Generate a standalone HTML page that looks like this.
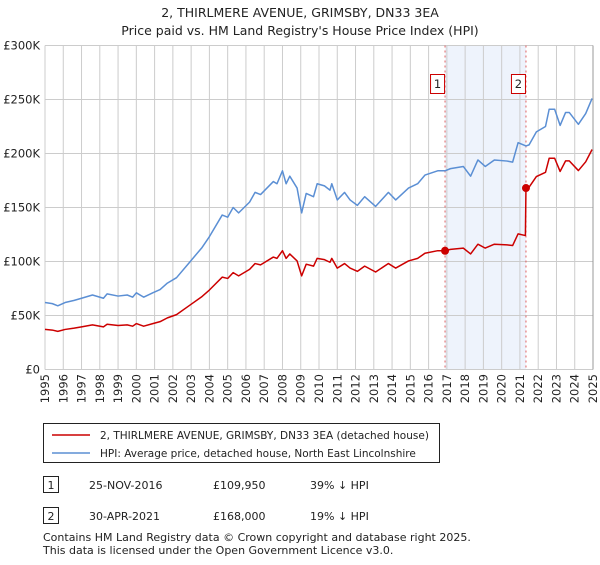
<!DOCTYPE html>
<html><head><meta charset="utf-8"><style>
body{margin:0;background:#fff;font-family:"Liberation Sans","DejaVu Sans",sans-serif;}
svg text{font-family:"DejaVu Sans","Liberation Sans",sans-serif;}
</style></head><body>
<svg id="chart" width="600" height="560" xmlns="http://www.w3.org/2000/svg">
<text x="300" y="17" text-anchor="middle" font-size="12.5" fill="#222">2, THIRLMERE AVENUE, GRIMSBY, DN33 3EA</text>
<text x="300" y="35" text-anchor="middle" font-size="12.5" fill="#222">Price paid vs. HM Land Registry's House Price Index (HPI)</text>
<g id="grid"></g><g id="marks"></g><g id="axes"></g>
<g>
<rect x="43.5" y="423.5" width="396" height="39" fill="#fff" stroke="#222"/>
<line x1="52" y1="435" x2="90" y2="435" stroke="#cc0000" stroke-width="1.5"/>
<text x="100" y="439" font-size="10.5" fill="#222">2, THIRLMERE AVENUE, GRIMSBY, DN33 3EA (detached house)</text>
<line x1="52" y1="453" x2="90" y2="453" stroke="#5b8fd4" stroke-width="1.5"/>
<text x="100" y="457" font-size="10.5" fill="#222">HPI: Average price, detached house, North East Lincolnshire</text>
</g>
<g font-size="11" fill="#222">
<rect x="43.5" y="476.5" width="15" height="16" fill="#fff" stroke="#222"/>
<text x="51" y="489" text-anchor="middle">1</text>
<text x="89" y="489">25-NOV-2016</text>
<text x="213" y="489">£109,950</text>
<text x="310" y="489">39% ↓ HPI</text>
<rect x="43.5" y="507.5" width="15" height="16" fill="#fff" stroke="#222"/>
<text x="51" y="520" text-anchor="middle">2</text>
<text x="89" y="520">30-APR-2021</text>
<text x="213" y="520">£168,000</text>
<text x="310" y="520">19% ↓ HPI</text>
</g>
<text x="43" y="541" font-size="11" fill="#222">Contains HM Land Registry data © Crown copyright and database right 2025.</text>
<text x="43" y="554" font-size="11" fill="#222">This data is licensed under the Open Government Licence v3.0.</text>
</svg>
<script>
const hpiYears=[1995.0,1995.4,1995.7,1996.1,1996.6,1997.0,1997.6,1998.2,1998.4,1999.0,1999.5,1999.8,2000.0,2000.4,2000.9,2001.3,2001.7,2002.2,2002.9,2003.6,2004.0,2004.7,2005.0,2005.3,2005.6,2006.2,2006.5,2006.8,2007.5,2007.7,2008.0,2008.2,2008.4,2008.8,2009.05,2009.3,2009.7,2009.9,2010.3,2010.6,2010.7,2011.0,2011.4,2011.7,2012.1,2012.5,2013.1,2013.8,2014.2,2014.9,2015.4,2015.8,2016.5,2016.9,2017.2,2017.9,2018.3,2018.7,2019.1,2019.6,2020.3,2020.6,2020.9,2021.33,2021.5,2021.9,2022.4,2022.6,2022.9,2023.2,2023.5,2023.7,2024.2,2024.6,2024.95];
const hpiValues=[62,61,59,62,64,66,69,66,70,68,69,67,71,67,71,74,80,85,99,113,123,143,141,150,145,155,164,162,174,172,184,172,179,168,145,163,160,172,170,166,172,157,164,157,152,160,151,164,157,168,172,180,184,184,186,188,179,194,188,194,193,192,210,207,208,220,225,241,241,226,238,238,227,237,251];
const priceYears=[1995.0,1995.4,1995.7,1996.1,1996.6,1997.0,1997.6,1998.2,1998.4,1999.0,1999.5,1999.8,2000.0,2000.4,2000.9,2001.3,2001.7,2002.2,2002.9,2003.6,2004.0,2004.7,2005.0,2005.3,2005.6,2006.2,2006.5,2006.8,2007.5,2007.7,2008.0,2008.2,2008.4,2008.8,2009.05,2009.3,2009.7,2009.9,2010.3,2010.6,2010.7,2011.0,2011.4,2011.7,2012.1,2012.5,2013.1,2013.8,2014.2,2014.9,2015.4,2015.8,2016.5,2016.9,2017.2,2017.9,2018.3,2018.7,2019.1,2019.6,2020.3,2020.6,2020.9,2021.3,2021.33,2021.5,2021.9,2022.4,2022.6,2022.9,2023.2,2023.5,2023.7,2024.2,2024.6,2024.95];
const priceValues=[37.1,36.5,35.3,37.1,38.3,39.5,41.3,39.5,41.9,40.7,41.3,40.1,42.5,40.1,42.5,44.3,47.8,50.8,59.2,67.6,73.6,85.5,84.3,89.7,86.7,92.7,98.1,96.9,104.1,102.9,110,102.9,107,100.5,86.7,97.5,95.7,102.9,101.7,99.3,102.9,93.9,98.1,93.9,90.9,95.7,90.3,98.1,93.9,100.5,102.9,107.6,110,110,111.2,112.4,107,116,112.4,116,115.4,114.8,125.6,124,168,168.8,178.6,182.6,195.6,195.6,183.4,193.2,193.2,184.2,192.3,203.7];
const saleYears=[2016.9,2021.33];
const saleValues=[109.95,168];
const saleLabels=["1","2"];
const yTicks=[0,50,100,150,200,250,300];
const yTickLabels=["£0","£50K","£100K","£150K","£200K","£250K","£300K"];
const xTicks=[1995,1996,1997,1998,1999,2000,2001,2002,2003,2004,2005,2006,2007,2008,2009,2010,2011,2012,2013,2014,2015,2016,2017,2018,2019,2020,2021,2022,2023,2024,2025];

const NS="http://www.w3.org/2000/svg";
const X0=45,X1=593,Y0=369.5,Y1=45.5;
const xs=y=>X0+(y-1995)/30*(X1-X0);
const ys=v=>Y0-v/300*(Y0-Y1);
function mk(tag,attrs,parent){const e=document.createElementNS(NS,tag);for(const k in attrs)e.setAttribute(k,attrs[k]);parent.appendChild(e);return e;}
const grid=document.getElementById('grid'),marks=document.getElementById('marks'),axes=document.getElementById('axes');
const band=mk('rect',{x:xs(saleYears[0]),y:Y1,width:xs(saleYears[1])-xs(saleYears[0]),height:Y0-Y1,fill:'#eef3fc'},grid);


xTicks.forEach((t,i)=>{
 const l=mk('line',{x1:xs(t),x2:xs(t),y1:Y1,y2:Y0,stroke:'#cccccc','stroke-width':1},grid);
 
 
 const px=xs(t)+4,py=374;
 const tx=mk('text',{x:px,y:py,'text-anchor':'end','font-size':11.5,fill:'#222',transform:'rotate(-90 '+px+' '+py+')'},axes);
 tx.textContent=t;
 
 
});
yTicks.forEach((t,i)=>{
 const l=mk('line',{x1:X0,x2:X1,y1:ys(t),y2:ys(t),stroke:'#cccccc','stroke-width':1},grid);
 
 
 const tx=mk('text',{x:40,y:ys(t)+4,'text-anchor':'end','font-size':11.5,fill:'#222'},axes);
 tx.textContent=yTickLabels[i];
 
 
});
saleYears.forEach((s,i)=>{
 const l=mk('line',{x1:xs(s),x2:xs(s),y1:Y1,y2:Y0,stroke:'#e06060','stroke-width':1,'stroke-dasharray':'2,3'},grid);
 
 
 const r=mk('rect',{x:xs(s)-14.5,y:74.5,width:14,height:19,fill:'#fff',stroke:'#cc0000'},marks);
 
 
 const t=mk('text',{x:xs(s)-7.5,y:88,'text-anchor':'middle','font-size':11.5,fill:'#222'},marks);
 t.textContent=saleLabels[i];
 
 
});
const hp=mk('polyline',{points:hpiYears.map((y,i)=>xs(y)+','+ys(hpiValues[i])).join(' '),fill:'none',stroke:'#5b8fd4','stroke-width':1.5,'stroke-linejoin':'round'},marks);


const pp=mk('polyline',{points:priceYears.map((y,i)=>xs(y)+','+ys(priceValues[i])).join(' '),fill:'none',stroke:'#cc0000','stroke-width':1.5,'stroke-linejoin':'round'},marks);


saleYears.forEach((s,i)=>{
 const c=mk('circle',{cx:xs(s),cy:ys(saleValues[i]),r:4,fill:'#cc0000'},marks);
 
 
});
const fr=mk('line',{x1:X1,x2:X1,y1:Y1,y2:Y0,stroke:'#999','stroke-width':1},axes);


</script>
</body></html>
